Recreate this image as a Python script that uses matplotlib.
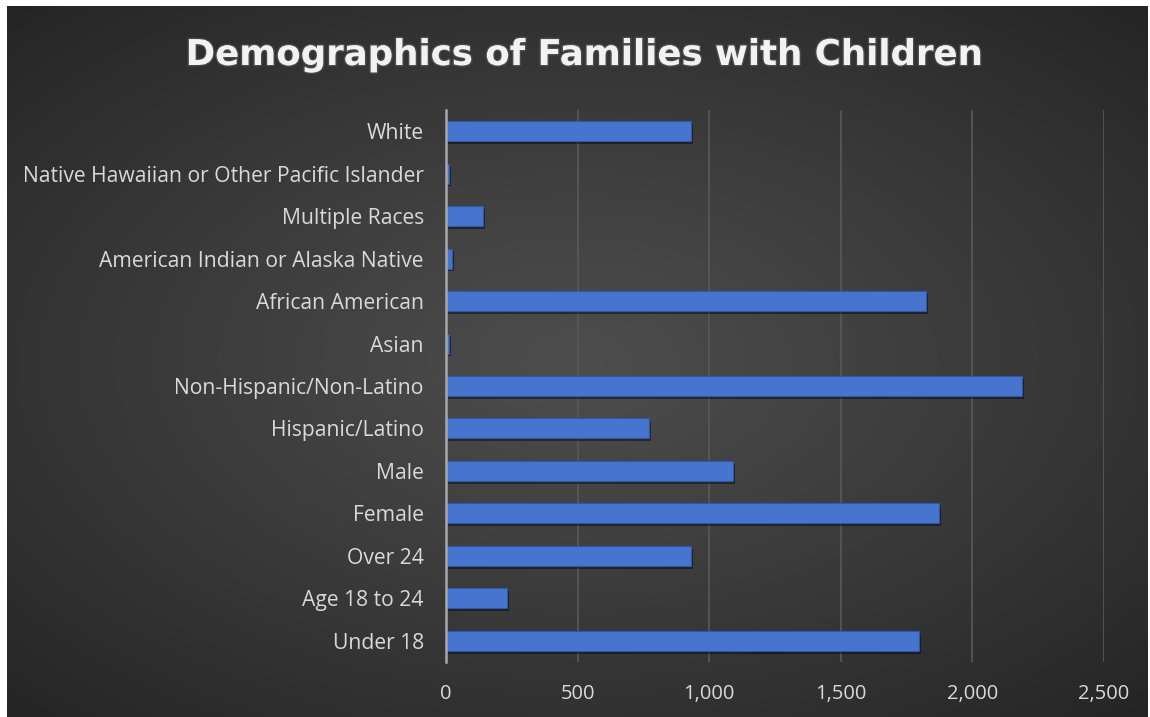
import numpy as np
import matplotlib
matplotlib.use("Agg")
import matplotlib.pyplot as plt
from matplotlib import patheffects as pe
from matplotlib.ticker import FuncFormatter, MultipleLocator

# ---- data (top to bottom as displayed) ----
categories = [
    "White",
    "Native Hawaiian or Other Pacific Islander",
    "Multiple Races",
    "American Indian or Alaska Native",
    "African American",
    "Asian",
    "Non-Hispanic/Non-Latino",
    "Hispanic/Latino",
    "Male",
    "Female",
    "Over 24",
    "Age 18 to 24",
    "Under 18",
]
values = [932, 12, 142, 22, 1824, 10, 2190, 772, 1089, 1872, 932, 230, 1796]
title = "Demographics of Families with Children"
x_max = 2500
x_step = 500

W, H = 1150, 717
fig = plt.figure(figsize=(W / 100, H / 100), dpi=100)
fig.patch.set_facecolor("white")

# ---- dark radial-gradient background ----
bx0, by0, bx1, by1 = 7, 0, 1147, 711  # pixel box (y from bottom)
bg = fig.add_axes([bx0 / W, by0 / H, (bx1 - bx0) / W, (by1 - by0) / H], zorder=0)
nx, ny = 400, 250
xx, yy = np.meshgrid(np.linspace(-1, 1, nx), np.linspace(-1, 1, ny))
r = np.sqrt((xx * 0.95) ** 2 + (yy * 1.0) ** 2) / np.sqrt(2)
r = np.clip(r, 0, 1)
inner = np.array([0x4d, 0x4d, 0x4d]) / 255
outer = np.array([0x24, 0x24, 0x24]) / 255
img = inner[None, None, :] * (1 - r[..., None] ** 1.1) + outer[None, None, :] * (r[..., None] ** 1.1)
bg.imshow(img, aspect="auto", extent=[0, 1, 0, 1], interpolation="bicubic")
bg.set_axis_off()

# ---- main axes ----
left, right, top, bottom = 446, 1104, 110, 662
ax = fig.add_axes([left / W, 1 - bottom / H, (right - left) / W, (bottom - top) / H], zorder=2)
ax.set_facecolor("none")

y = np.arange(len(categories))
bars = ax.barh(y, values, height=0.47, color="#4674cf", edgecolor="#2f58a6",
               linewidth=0.8, zorder=3)
for b in bars:
    b.set_path_effects([pe.SimplePatchShadow(offset=(1.5, -2), shadow_rgbFace="black", alpha=0.45),
                        pe.Normal()])

ax.set_ylim(len(categories) - 0.5, -0.5)
ax.set_xlim(0, x_max)
ax.xaxis.set_major_locator(MultipleLocator(x_step))
ax.xaxis.set_major_formatter(FuncFormatter(lambda v, p: f"{int(v):,}"))
ax.set_yticks(y)
ax.set_yticklabels(categories)

ax.grid(axis="x", color="#595959", linewidth=1.2, zorder=1)
ax.set_axisbelow(True)
for s in ["top", "right", "bottom"]:
    ax.spines[s].set_visible(False)
ax.spines["left"].set_color("#a8a8a8")
ax.spines["left"].set_linewidth(1.8)
ax.spines["left"].set_zorder(4)

ax.tick_params(axis="both", length=0, colors="#d9d9d9")
ax.tick_params(axis="y", pad=16, labelsize=15.2)
ax.tick_params(axis="x", pad=16, labelsize=14.5)
for lab in ax.get_xticklabels() + ax.get_yticklabels():
    lab.set_fontfamily("Open Sans")
    lab.set_color("#d9d9d9")

fig.text(584 / W, 1 - 55 / H, title, ha="center", va="center", color="#f2f2f2",
         fontsize=25.6, fontweight="bold", fontfamily="DejaVu Sans",
         path_effects=[pe.withStroke(linewidth=2, foreground="#777777", alpha=0.35)], zorder=5)

fig.savefig("out.png", dpi=100, facecolor=fig.get_facecolor())
